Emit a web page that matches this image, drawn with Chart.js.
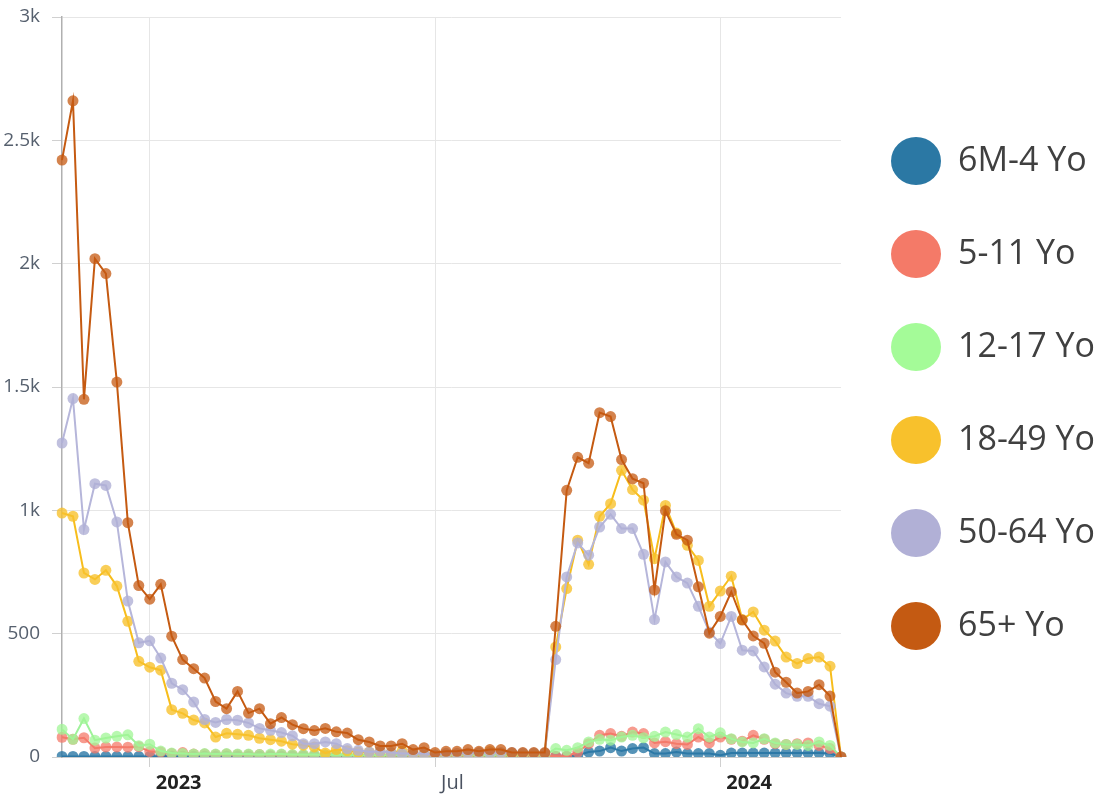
<!DOCTYPE html>
<html>
<head>
<meta charset="utf-8">
<script src="https://cdn.jsdelivr.net/npm/chart.js@4/dist/chart.umd.min.js"></script>
<style>
  html, body { margin: 0; padding: 0; background: #ffffff; }
  #wrap { width: 1102px; height: 799px; }
</style>
</head>
<body>
<div id="wrap"><canvas id="chart" width="1102" height="799"></canvas></div>
<script>
// weekly dates (Saturdays)
const weeks = [
  '2022-11-05', '2022-11-12', '2022-11-19', '2022-11-26', '2022-12-03', '2022-12-10', '2022-12-17', '2022-12-24', '2022-12-31',
  '2023-01-07', '2023-01-14', '2023-01-21', '2023-01-28', '2023-02-04', '2023-02-11', '2023-02-18', '2023-02-25',
  '2023-03-04', '2023-03-11', '2023-03-18', '2023-03-25', '2023-04-01', '2023-04-08', '2023-04-15', '2023-04-22', '2023-04-29',
  '2023-05-06', '2023-05-13', '2023-05-20', '2023-05-27', '2023-06-03', '2023-06-10', '2023-06-17', '2023-06-24',
  '2023-07-01', '2023-07-08', '2023-07-15', '2023-07-22', '2023-07-29', '2023-08-05', '2023-08-12', '2023-08-19', '2023-08-26',
  '2023-09-02', '2023-09-09', '2023-09-16', '2023-09-23', '2023-09-30', '2023-10-07', '2023-10-14', '2023-10-21', '2023-10-28',
  '2023-11-04', '2023-11-11', '2023-11-18', '2023-11-25', '2023-12-02', '2023-12-09', '2023-12-16', '2023-12-23', '2023-12-30',
  '2024-01-06', '2024-01-13', '2024-01-20', '2024-01-27', '2024-02-03', '2024-02-10', '2024-02-17', '2024-02-24',
  '2024-03-02', '2024-03-09', '2024-03-16'
];

const tickWeeks = ['2022-12-31', '2023-07-01', '2023-12-30'];
const tickLabels = ['2023', 'Jul', '2024'];

const seriesNames = ['6M-4 Yo', '5-11 Yo', '12-17 Yo', '18-49 Yo', '50-64 Yo', '65+ Yo'];

const ages6m4 = [
  2, 2, 2, 2, 2, 2, 2, 2, 2, 3, 3, 3, 3, 3, 3, 3, 3, 3, 3, 3, 3, 3, 3, 3, 3, 3, 3, 3, 3, 3, 3, 3, 3, 3, 3, 3,
  3, 3, 3, 3, 3, 3, 3, 3, 4, 2, 2, 7, 20, 24, 38, 24, 34, 38, 14, 14, 20, 14, 14, 14, 7, 16, 16, 16, 16, 16, 16, 16, 16, 16, 14, 0
];
const ages5to11 = [
  80, 72, 78, 36, 41, 41, 40, 42, 22, 20, 14, 18, 12, 12, 10, 12, 10, 10, 10, 8, 10, 8, 8, 8, 8, 8, 8, 6, 6, 6, 6, 6, 6, 6, 5, 6,
  6, 6, 6, 6, 6, 6, 6, 6, 5, 3, 3, 20, 54, 88, 95, 84, 101, 95, 57, 62, 54, 51, 81, 57, 81, 72, 64, 88, 72, 54, 51, 54, 57, 47, 34, 0
];
const ages12to17 = [
  112, 72, 156, 68, 77, 84, 90, 46, 52, 24, 16, 14, 12, 14, 12, 14, 12, 12, 10, 12, 12, 10, 10, 10, 8, 10, 8, 8, 8, 8, 8, 8, 8, 8, 6, 8,
  8, 8, 8, 8, 8, 8, 10, 12, 7, 34, 27, 38, 61, 72, 68, 81, 88, 78, 84, 101, 91, 81, 115, 81, 98, 74, 61, 57, 74, 57, 51, 51, 47, 61, 47, 0
];
const ages18to49 = [
  989, 976, 746, 720, 757, 693, 550, 388, 364, 352, 192, 177, 150, 138, 81, 96, 92, 88, 76, 70, 64, 52, 48, 41, 16, 30, 25, 20, 20, 22, 18, 24, 12, 12, 8, 12,
  12, 14, 16, 22, 16, 14, 12, 12, 14, 446, 683, 879, 781, 976, 1027, 1162, 1084, 1041, 804, 1020, 908, 858, 797, 611, 673, 733, 557, 588, 514, 470, 405, 379, 399, 405, 368, 0
];
const ages50to64 = [
  1273, 1453, 922, 1108, 1101, 953, 632, 463, 471, 401, 299, 273, 223, 152, 140, 152, 149, 138, 116, 108, 99, 86, 54, 54, 61, 54, 34, 27, 20, 23, 18, 14, 14, 14, 8, 15,
  15, 16, 18, 18, 18, 18, 16, 16, 16, 395, 730, 868, 818, 932, 984, 926, 926, 822, 557, 791, 730, 705, 611, 507, 460, 570, 433, 430, 365, 295, 259, 246, 246, 216, 206, 0
];
const ages65plus = [
  2420, 2660, 1450, 2020, 1960, 1520, 950, 695, 640, 700, 490, 395, 358, 320, 225, 196, 266, 178, 196, 135, 160, 131, 115, 107, 116, 102, 97, 70, 61, 45, 45, 54, 30, 38, 18, 23,
  23, 30, 23, 30, 30, 18, 18, 18, 18, 530, 1081, 1215, 1191, 1396, 1380, 1206, 1128, 1110, 677, 998, 903, 879, 690, 502, 570, 670, 555, 491, 461, 344, 303, 259, 266, 293, 247, 0
];

const lineColors = ['#2e7bab', '#f47c6c', '#9ff29a', '#f7bd1c', '#b6b6da', '#c55a11'];
const pointColors = ['rgba(44,120,165,0.8)', 'rgba(244,122,106,0.75)', 'rgba(160,245,150,0.75)',
                     'rgba(248,194,46,0.8)', 'rgba(176,176,214,0.8)', 'rgba(197,90,17,0.75)'];
const legendColors = ['#2b78a4', '#f47a68', '#a4fb98', '#f8c12c', '#b1b0d6', '#c45a12'];

const allSeries = [ages6m4, ages5to11, ages12to17, ages18to49, ages50to64, ages65plus];

Chart.defaults.font.family = "'Open Sans', sans-serif";

const datasets = allSeries.map((values, i) => ({
  label: seriesNames[i],
  data: values,
  borderColor: lineColors[i],
  backgroundColor: pointColors[i],
  pointBackgroundColor: pointColors[i],
  pointBorderWidth: 0,
  pointRadius: 5.5,
  borderWidth: 2,
  tension: 0,
  order: allSeries.length - i
}));

const ctx = document.getElementById('chart').getContext('2d');

new Chart(ctx, {
  type: 'line',
  data: { labels: weeks, datasets },
  options: {
    responsive: false,
    animation: false,
    devicePixelRatio: 1,
    layout: { padding: { top: 17, bottom: 2, left: 0, right: 0 } },
    plugins: {
      tooltip: { enabled: false },
      legend: {
        position: 'right',
        fullSize: false,
        maxWidth: 261,
        reverse: true,
        // blank title only nudges the legend block down a little
        title: { display: true, text: ' ', font: { size: 15, lineHeight: 22 / 15 }, padding: 0 },
        labels: {
          usePointStyle: true,
          pointStyleWidth: 50,
          padding: 50,
          color: '#404040',
          font: { size: 34, lineHeight: 43 / 34 },
          generateLabels(chart) {
            const items = Chart.defaults.plugins.legend.labels.generateLabels(chart);
            items.forEach(item => {
              const i = item.datasetIndex;
              item.text = [seriesNames[i]];
              item.fillStyle = legendColors[i];
              item.strokeStyle = legendColors[i];
              item.lineWidth = 0;
              item.pointStyle = 'circle';
            });
            return items;
          }
        }
      }
    },
    scales: {
      x: {
        type: 'category',
        offset: false,
        afterBuildTicks(scale) {
          scale.ticks = scale.ticks.filter(t => tickWeeks.includes(weeks[t.value]));
        },
        afterFit(scale) { scale.height = 40; },
        grid: { color: '#e6e6e6', offset: false, tickLength: 10, tickColor: '#d0d0d0' },
        border: { color: '#cccccc', width: 1 },
        ticks: {
          autoSkip: false,
          maxRotation: 0,
          align: 'start',
          labelOffset: 6,
          padding: 4,
          callback(value) { return tickLabels[tickWeeks.indexOf(weeks[value])]; },
          color: c => (c.tick && c.tick.label === 'Jul') ? '#4a5260' : '#222222',
          font: c => ({ size: 20, weight: (c.tick && c.tick.label === 'Jul') ? 'normal' : 'bold' })
        }
      },
      y: {
        min: 0,
        max: 3000,
        afterFit(scale) { scale.width = 62; },
        grid: { color: '#e6e6e6', tickLength: 10, tickColor: '#d0d0d0' },
        border: { color: '#b0b0b0', width: 1.5 },
        ticks: {
          stepSize: 500,
          padding: 12,
          color: '#56606e',
          // small lineHeight keeps the label padding from pushing the plot top down
          font: { size: 19, lineHeight: 0.4 },
          callback(v) { return v < 1000 ? String(v) : (v / 1000) + 'k'; }
        }
      }
    }
  }
});
</script>
</body>
</html>
